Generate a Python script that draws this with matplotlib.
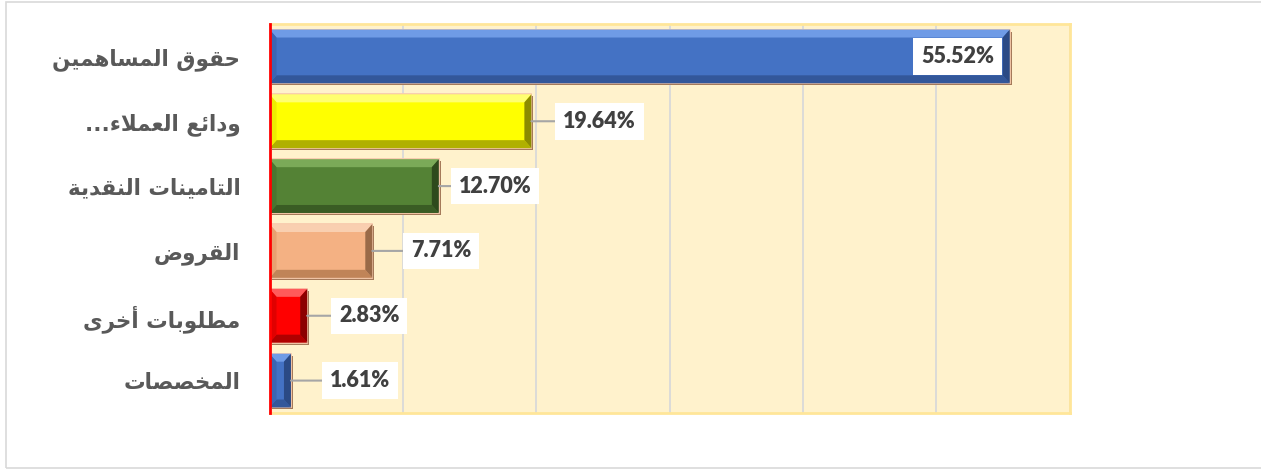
import matplotlib
matplotlib.use('Agg')
import matplotlib.pyplot as plt
from matplotlib.patches import Polygon, Rectangle
import matplotlib.transforms as mtransforms

# ---------------- data ----------------
categories = ["حقوق المساهمين", "ودائع العملاء...", "التامينات النقدية",
              "القروض", "مطلوبات أخرى", "المخصصات"]
values = [55.52, 19.64, 12.70, 7.71, 2.83, 1.61]
value_labels = ["55.52%", "19.64%", "12.70%", "7.71%", "2.83%", "1.61%"]
x_ticks = [0, 10, 20, 30, 40, 50, 60]

# ---------------- styles ----------------
face_c = ['#4472C4', '#FFFF00', '#548235', '#F4B183', '#FF0000', '#4472C4']
top_c = ['#6F9BE6', '#FFFF70', '#7BAA58', '#F9CFB0', '#FF5A5A', '#6F9BE6']
left_c = ['#3C65B2', '#EDED00', '#4A7530', '#E8A070', '#E00000', '#3C65B2']
right_c = ['#2B4A85', '#8C8C00', '#2E4A1C', '#9A6A48', '#8C0000', '#2B4A85']
bot_c = ['#33579A', '#B0B000', '#3A5C24', '#C08458', '#B00000', '#33579A']
label_inside = [True, False, False, False, False, False]
label_gap_px = [8, 24, 12, 31, 24, 31]

# ---------------- minimal Arabic shaping ----------------
FORMS = {
    'ء': ('\uFE80', None, None, None),
    'أ': ('\uFE83', '\uFE84', None, None),
    'ا': ('\uFE8D', '\uFE8E', None, None),
    'ئ': ('\uFE89', '\uFE8A', '\uFE8B', '\uFE8C'),
    'ب': ('\uFE8F', '\uFE90', '\uFE91', '\uFE92'),
    'ة': ('\uFE93', '\uFE94', None, None),
    'ت': ('\uFE95', '\uFE96', '\uFE97', '\uFE98'),
    'ح': ('\uFEA1', '\uFEA2', '\uFEA3', '\uFEA4'),
    'خ': ('\uFEA5', '\uFEA6', '\uFEA7', '\uFEA8'),
    'د': ('\uFEA9', '\uFEAA', None, None),
    'ر': ('\uFEAD', '\uFEAE', None, None),
    'س': ('\uFEB1', '\uFEB2', '\uFEB3', '\uFEB4'),
    'ص': ('\uFEB9', '\uFEBA', '\uFEBB', '\uFEBC'),
    'ض': ('\uFEBD', '\uFEBE', '\uFEBF', '\uFEC0'),
    'ط': ('\uFEC1', '\uFEC2', '\uFEC3', '\uFEC4'),
    'ع': ('\uFEC9', '\uFECA', '\uFECB', '\uFECC'),
    'ق': ('\uFED5', '\uFED6', '\uFED7', '\uFED8'),
    'ل': ('\uFEDD', '\uFEDE', '\uFEDF', '\uFEE0'),
    'م': ('\uFEE1', '\uFEE2', '\uFEE3', '\uFEE4'),
    'ن': ('\uFEE5', '\uFEE6', '\uFEE7', '\uFEE8'),
    'ه': ('\uFEE9', '\uFEEA', '\uFEEB', '\uFEEC'),
    'و': ('\uFEED', '\uFEEE', None, None),
    'ى': ('\uFEEF', '\uFEF0', None, None),
    'ي': ('\uFEF1', '\uFEF2', '\uFEF3', '\uFEF4'),
}
LAM_ALEF = {'ا': ('\uFEFB', '\uFEFC'), 'أ': ('\uFEF7', '\uFEF8')}


def shape(text):
    units = []
    i = 0
    while i < len(text):
        c = text[i]
        if c == 'ل' and i + 1 < len(text) and text[i + 1] in LAM_ALEF:
            units.append(('LA', text[i + 1]))
            i += 2
        else:
            units.append((c, None))
            i += 1

    def joins_next(u):
        c = u[0]
        if c == 'LA':
            return False
        f = FORMS.get(c)
        return f is not None and f[2] is not None

    def is_letter(u):
        c = u[0]
        return c == 'LA' or (c in FORMS and c != 'ء')

    out = []
    for k, u in enumerate(units):
        c, a = u
        prev = units[k - 1] if k > 0 else None
        nxt = units[k + 1] if k + 1 < len(units) else None
        jp = prev is not None and joins_next(prev) and is_letter(u)
        if c == 'LA':
            out.append(LAM_ALEF[a][1 if jp else 0])
            continue
        if c not in FORMS:
            out.append(c)
            continue
        f = FORMS[c]
        if c == 'ء':
            out.append(f[0])
            continue
        jn = nxt is not None and joins_next(u) and is_letter(nxt)
        if jp and jn:
            g = f[3]
        elif jp:
            g = f[1]
        elif jn:
            g = f[2]
        else:
            g = f[0]
        out.append(g)
    return ''.join(reversed(out))


# ---------------- figure ----------------
W, H, DPI = 1261, 470, 100
fig = plt.figure(figsize=(W / DPI, H / DPI), dpi=DPI)
fig.patch.set_facecolor('white')
L, R, T, B = 269.5, 1069.5, 24, 413
ax = fig.add_axes([L / W, 1 - B / H, (R - L) / W, (B - T) / H])
ax.set_facecolor('#FFF2CC')
n = len(categories)
ax.set_xlim(x_ticks[0], x_ticks[-1])
ax.set_ylim(n - 0.5, -0.5)
ppx = (R - L) / (x_ticks[-1] - x_ticks[0])
ppy = (B - T) / n

ax.set_xticks(x_ticks)
ax.xaxis.grid(True, color='#D9D9D9', lw=1.3, zorder=0)
ax.set_axisbelow(True)
ax.tick_params(axis='x', length=0, labelbottom=False)

for s in ['top', 'right', 'bottom']:
    ax.spines[s].set_color('#FFE699')
    ax.spines[s].set_linewidth(2)
ax.spines['left'].set_color('#FF0000')
ax.spines['left'].set_linewidth(2)
ax.spines['left'].set_zorder(10)

ypos = list(range(n))
bh = 0.83
bars = ax.barh(ypos, values, height=bh, color=face_c, edgecolor='#F8CBAD',
               linewidth=1.3, zorder=3)

shadow_tr = ax.transData + mtransforms.ScaledTranslation(2 / DPI, -2 / DPI, fig.dpi_scale_trans)
for p in bars:
    sh = Rectangle(p.get_xy(), p.get_width(), p.get_height(), facecolor='#A57A5A',
                   edgecolor='none', transform=shadow_tr, zorder=2.5)
    ax.add_patch(sh)

# bevel overlays computed from the bar geometry
for i, p in enumerate(bars):
    x0, yt = p.get_xy()
    x1 = x0 + p.get_width()
    yb = yt + p.get_height()
    wpx = p.get_width() * ppx
    bx = min(7.0, wpx / 3.0) / ppx
    by = 8.0 / ppy
    polys = [
        ([(x0, yt), (x1, yt), (x1 - bx, yt + by), (x0 + bx, yt + by)], top_c[i]),
        ([(x0, yb), (x1, yb), (x1 - bx, yb - by), (x0 + bx, yb - by)], bot_c[i]),
        ([(x0, yt), (x0 + bx, yt + by), (x0 + bx, yb - by), (x0, yb)], left_c[i]),
        ([(x1, yt), (x1 - bx, yt + by), (x1 - bx, yb - by), (x1, yb)], right_c[i]),
    ]
    for pts, col in polys:
        ax.add_patch(Polygon(pts, closed=True, facecolor=col, edgecolor='none', zorder=4))

# y labels
ax.set_yticks(ypos)
ax.set_yticklabels([shape(c) for c in categories], fontfamily='DejaVu Sans',
                   fontweight='bold', fontsize=15.5, color='#595959')
ax.tick_params(axis='y', length=0, pad=21)

# value labels
fs = 15.5
pad = 0.36
pad_px = pad * fs * DPI / 72
for i, (v, lab) in enumerate(zip(values, value_labels)):
    bbox = dict(boxstyle='square,pad=%g' % pad, facecolor='white', edgecolor='none')
    if label_inside[i]:
        ax.annotate(lab, xy=(v, i), xytext=(-(label_gap_px[i] + pad_px) * 72 / DPI, 0),
                    textcoords='offset points', ha='right', va='center', fontsize=fs,
                    fontfamily='Lato', fontweight='heavy', color='#404040', bbox=bbox, zorder=6)
    else:
        ax.annotate(lab, xy=(v, i), xytext=((label_gap_px[i] + pad_px) * 72 / DPI, 0),
                    textcoords='offset points', ha='left', va='center', fontsize=fs,
                    fontfamily='Lato', fontweight='heavy', color='#404040', bbox=bbox, zorder=6,
                    arrowprops=dict(arrowstyle='-', color='#A6A6A6', lw=1.5,
                                    shrinkA=0, shrinkB=0))

# outer chart border
fig.add_artist(Rectangle((6 / W, 2 / H), (W + 10 - 6) / W, (468 - 2) / H,
                         transform=fig.transFigure, facecolor='none',
                         edgecolor='#D9D9D9', lw=1.2))

fig.savefig('out.png', dpi=DPI)
